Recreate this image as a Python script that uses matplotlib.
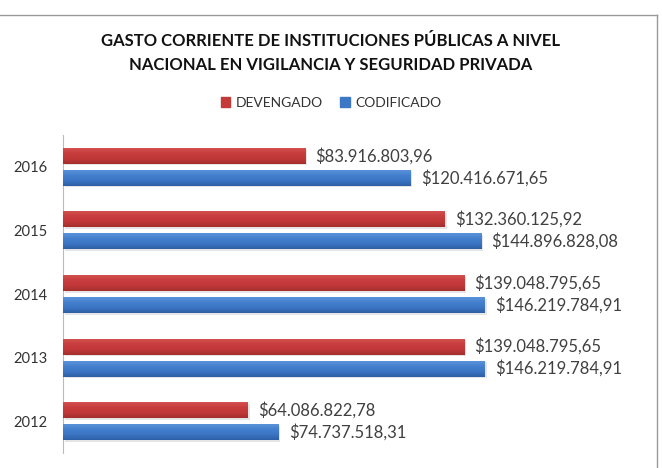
import matplotlib
matplotlib.use("Agg")
import matplotlib.pyplot as plt
from matplotlib.lines import Line2D
from matplotlib.colors import LinearSegmentedColormap
import numpy as np

years = ["2012", "2013", "2014", "2015", "2016"]
devengado = [64086822.78, 139048795.65, 139048795.65, 132360125.92, 83916803.96]
codificado = [74737518.31, 146219784.91, 146219784.91, 144896828.08, 120416671.65]
series_names = ["DEVENGADO", "CODIFICADO"]
title = "GASTO CORRIENTE DE INSTITUCIONES PÚBLICAS A NIVEL\nNACIONAL EN VIGILANCIA Y SEGURIDAD PRIVADA"

RED = "#C43A3A"
BLUE = "#3C78C6"
RED_GRAD = ["#D45050", "#C83C3C", "#C03838", "#A52E2E"]
BLUE_GRAD = ["#5A92DA", "#4480CE", "#3A74C2", "#2E5FA6"]

def fmt(v):
    s = f"{v:,.2f}"
    s = s.replace(",", "X").replace(".", ",").replace("X", ".")
    return "$" + s

plt.rcParams['font.family'] = ['Lato', 'DejaVu Sans']

fig = plt.figure(figsize=(6.62, 4.68), dpi=100)
ax = fig.add_axes([63/662, (468-453)/468, (640-63)/662, (453-135)/468])

y = np.arange(len(years))
h = 0.25
off = 0.173

def grad_bars(vals, ypos, colors, label):
    bars = ax.barh(ypos, vals, height=h, color=colors[1], label=label, zorder=2)
    cmap = LinearSegmentedColormap.from_list("g", colors)
    g = np.linspace(0, 1, 64).reshape(-1, 1)
    for b in bars:
        x0, y0 = b.get_x(), b.get_y()
        w, hh = b.get_width(), b.get_height()
        ax.barh(y0 + hh / 2 - 0.025, w, height=hh, left=0.003 * 2e8, color="#000000",
                alpha=0.10, zorder=1)
        ax.imshow(g, cmap=cmap, aspect="auto", extent=(x0, x0 + w, y0, y0 + hh),
                  origin="upper", zorder=3)
    return bars

grad_bars(devengado, y + off, RED_GRAD, series_names[0])
grad_bars(codificado, y - off, BLUE_GRAD, series_names[1])

for yi, v in zip(y, devengado):
    ax.annotate(fmt(v), (v, yi + off), xytext=(7.5, 0), textcoords="offset points",
                va="center", ha="left", fontsize=12, color="#404040", zorder=4)
for yi, v in zip(y, codificado):
    ax.annotate(fmt(v), (v, yi - off), xytext=(7.5, 0), textcoords="offset points",
                va="center", ha="left", fontsize=12, color="#404040", zorder=4)

ax.set_xlim(0, 200000000)
ax.set_ylim(-0.5, len(years) - 0.5)
ax.set_yticks(y)
ax.set_yticklabels(years, fontsize=10.6, color="#333333")
ax.tick_params(axis="y", length=0, pad=11)
ax.set_xticks([])
for s in ["top", "right", "bottom"]:
    ax.spines[s].set_visible(False)
ax.spines["left"].set_color("#BBBBBB")

fig.text(0.5, 1 - 53/468, title, ha="center", va="center",
         fontsize=12, fontweight="bold", color="#111111", linespacing=1.55)

handles = [plt.Rectangle((0, 0), 1, 1, color=RED), plt.Rectangle((0, 0), 1, 1, color=BLUE)]
fig.legend(handles, series_names, loc="center", bbox_to_anchor=(0.5, 1 - 103/468),
           ncol=2, frameon=False, fontsize=10, handlelength=0.7, handleheight=0.7,
           handletextpad=0.4, columnspacing=1.2, labelcolor="#333333")

fig.add_artist(Line2D([0, 657/662], [1 - 15/468, 1 - 15/468], transform=fig.transFigure,
                      color="#999999", lw=1))
fig.add_artist(Line2D([657/662, 657/662], [0, 1 - 15/468], transform=fig.transFigure,
                      color="#999999", lw=1))

fig.savefig("out.png", dpi=100)
